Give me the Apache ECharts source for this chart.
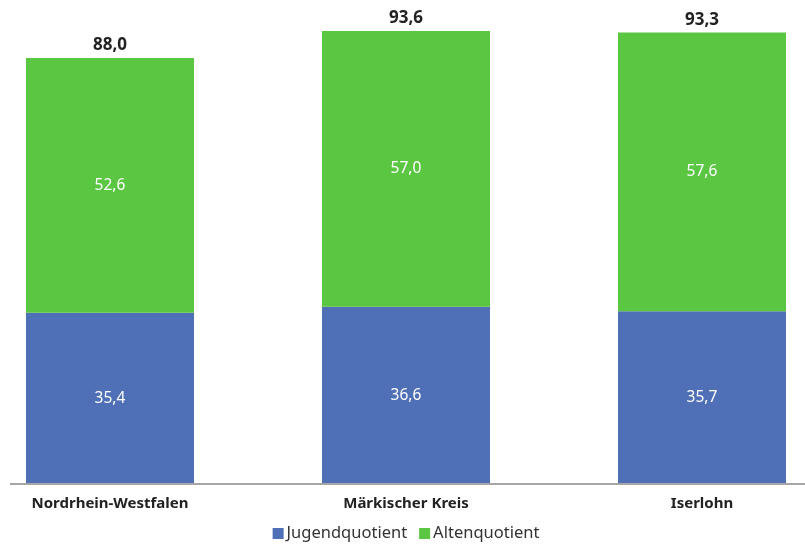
<!DOCTYPE html>
<html><head><meta charset="utf-8">
<script src="https://cdn.jsdelivr.net/npm/echarts@6/dist/echarts.min.js"></script>
<style>html,body{margin:0;padding:0;background:#fff;overflow:hidden;width:805px;height:547px}
#c{position:absolute;left:-38px;top:0;width:888px;height:547px}</style>
</head><body><div id="c"></div>
<script>
const categories = ['Nordrhein-Westfalen', 'Märkischer Kreis', 'Iserlohn'];
const jugendquotient = [35.4, 36.6, 35.7];
const altenquotient = [52.6, 57.0, 57.6];
const totals = [88.0, 93.6, 93.3];
const seriesNames = ['Jugendquotient', 'Altenquotient'];

const fmt = v => v.toFixed(1).replace('.', ',');
const font = '"Noto Sans", sans-serif';
const chart = echarts.init(document.getElementById('c'), null, {renderer: 'canvas'});
chart.setOption({
  animation: false,
  textStyle: {fontFamily: font},
  grid: {left: 0, right: 0, top: 0, bottom: 63, containLabel: false},
  xAxis: {
    type: 'category', data: categories,
    axisLine: {show: false}, axisTick: {show: false},
    axisLabel: {fontWeight: 'bold', fontSize: 15, color: '#222', margin: 12, fontFamily: font}
  },
  yAxis: {type: 'value', min: 0, max: 100, show: false, splitLine: {show: false}},
  legend: {
    data: seriesNames, bottom: 0, left: 'center', icon: 'rect',
    itemWidth: 11, itemHeight: 11, itemGap: 12,
    textStyle: {fontSize: 16.5, color: '#333', padding: [0, 0, 0, -2], fontFamily: font}
  },
  graphic: [{
    type: 'line', shape: {x1: 48, y1: 484, x2: 888, y2: 484},
    style: {stroke: '#a6a6a6', lineWidth: 2}, z: 10
  }],
  series: [
    {name: seriesNames[0], type: 'bar', stack: 't', data: jugendquotient, barWidth: 168,
     itemStyle: {color: '#4f6fb7'},
     label: {show: true, position: 'inside', color: '#fff', fontSize: 15.5, formatter: p => fmt(p.value)}},
    {name: seriesNames[1], type: 'bar', stack: 't', data: altenquotient, barWidth: 168,
     itemStyle: {color: '#5bc642'},
     label: {show: true, position: 'inside', color: '#fff', fontSize: 15.5, formatter: p => fmt(p.value)}},
    {name: 'Summe', type: 'bar', stack: 't', data: totals.map(() => 0), barWidth: 168,
     itemStyle: {color: 'transparent'},
     label: {show: true, position: 'top', distance: 4, color: '#222', fontWeight: 'bold', fontSize: 17,
             formatter: p => fmt(totals[p.dataIndex])}}
  ]
});
</script></body></html>
